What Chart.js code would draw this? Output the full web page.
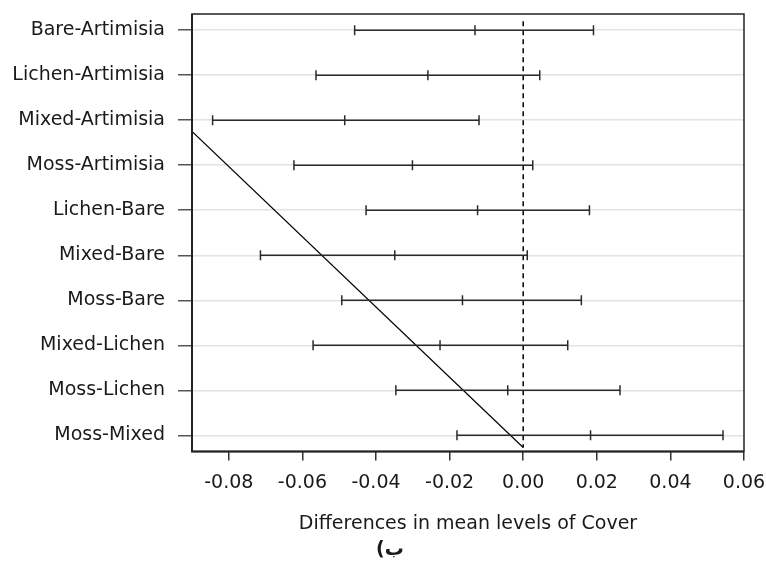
<!DOCTYPE html>
<html>
<head>
<meta charset="utf-8">
<script src="https://cdn.jsdelivr.net/npm/chart.js@4"></script>
<style>
  html, body { margin: 0; padding: 0; background: #ffffff; }
  #c { display: block; }
</style>
</head>
<body>
<canvas id="c" width="766" height="562"></canvas>
<script>
// ---- data ----
const categories = ["Bare-Artimisia","Lichen-Artimisia","Mixed-Artimisia","Moss-Artimisia","Lichen-Bare","Mixed-Bare","Moss-Bare","Mixed-Lichen","Moss-Lichen","Moss-Mixed"];
const diffs  = [-0.0131,-0.0259,-0.0485,-0.0301,-0.0124,-0.0349,-0.0165,-0.0226,-0.0042, 0.0183];
const lowers = [-0.0458,-0.0563,-0.0844,-0.0623,-0.0427,-0.0714,-0.0493,-0.0571,-0.0346,-0.0180];
const uppers = [ 0.0191, 0.0045,-0.0120, 0.0026, 0.0180, 0.0011, 0.0158, 0.0121, 0.0263, 0.0543];
const xTicks = [-0.08,-0.06,-0.04,-0.02,0,0.02,0.04,0.06];
const refLineX = [0, 0];
const refLineY = [0.8, 10.27];
const diagLineX = [-0.09, 0];
const diagLineY = [3.25, 10.27];
const xTitle = "Differences in mean levels of Cover";
const caption = "ب)";

const FONT = "'DejaVu Sans', 'Liberation Sans', Arial, sans-serif";
const TXT = "#1a1a1a";

const datasets = [];
categories.forEach((c, i) => {
  datasets.push({
    label: c,
    data: [
      {x: lowers[i], y: i + 1},
      {x: diffs[i],  y: i + 1},
      {x: uppers[i], y: i + 1}
    ],
    showLine: true,
    borderColor: "#2a2a2a",
    borderWidth: 1.5,
    pointStyle: "line",
    rotation: 90,
    pointRadius: 5,
    pointBorderWidth: 1.5,
    pointBorderColor: "#2a2a2a",
    pointBackgroundColor: "#2a2a2a"
  });
});
datasets.push({
  label: "zero",
  data: refLineX.map((x, k) => ({x: x, y: refLineY[k]})),
  showLine: true,
  borderColor: "#000000",
  borderWidth: 1.5,
  borderDash: [5, 4],
  pointRadius: 0
});
datasets.push({
  label: "diag",
  data: diagLineX.map((x, k) => ({x: x, y: diagLineY[k]})),
  showLine: true,
  borderColor: "#000000",
  borderWidth: 1.2,
  pointRadius: 0
});

function zeroPad(s) {
  s.paddingLeft = 0; s.paddingRight = 0; s.paddingTop = 0; s.paddingBottom = 0;
}

const framePlugin = {
  id: "frame",
  afterDraw(chart) {
    const {ctx, chartArea: a} = chart;
    ctx.save();
    ctx.strokeStyle = "#222222";
    ctx.lineWidth = 1.5;
    ctx.strokeRect(a.left, a.top, a.right - a.left, a.bottom - a.top);
    ctx.lineWidth = 2;
    ctx.beginPath();
    ctx.moveTo(a.left, a.top);
    ctx.lineTo(a.left, a.bottom);
    ctx.lineTo(a.right, a.bottom);
    ctx.stroke();
    // caption
    ctx.fillStyle = TXT;
    ctx.font = "bold 19px " + FONT;
    ctx.direction = "rtl";
    ctx.textAlign = "center";
    ctx.textBaseline = "middle";
    ctx.fillText(caption, 390, 550);
    ctx.restore();
  }
};

new Chart(document.getElementById("c"), {
  type: "scatter",
  data: { datasets: datasets },
  options: {
    responsive: false,
    animation: false,
    events: [],
    layout: { padding: { left: 0, top: 14, right: 22, bottom: 0 } },
    plugins: {
      legend: { display: false },
      tooltip: { enabled: false },
      title: { display: false }
    },
    scales: {
      x: {
        type: "linear",
        min: -0.09,
        max: 0.06,
        afterBuildTicks: (s) => { s.ticks = xTicks.map(v => ({value: v})); },
        afterFit: (s) => { s.height = 110.5; zeroPad(s); },
        ticks: {
          autoSkip: false,
          maxRotation: 0,
          padding: 11,
          color: TXT,
          font: { family: FONT, size: 19 },
          callback: (v) => Number(v).toFixed(2)
        },
        grid: {
          drawOnChartArea: false,
          drawTicks: true,
          tickLength: 9,
          tickColor: "#333333",
          lineWidth: 1.5
        },
        border: { display: false },
        title: {
          display: true,
          text: xTitle,
          color: TXT,
          font: { family: FONT, size: 19 },
          padding: { top: 0, bottom: 27 }
        }
      },
      y: {
        type: "linear",
        min: 0.64,
        max: 10.36,
        reverse: true,
        afterBuildTicks: (s) => { s.ticks = categories.map((c, i) => ({value: i + 1})); },
        afterFit: (s) => { s.width = 192; zeroPad(s); },
        ticks: {
          autoSkip: false,
          padding: 13,
          color: TXT,
          font: { family: FONT, size: 19 },
          callback: (v) => categories[Math.round(v) - 1]
        },
        grid: {
          color: "#e2e2e2",
          lineWidth: 1.5,
          drawTicks: true,
          tickLength: 14,
          tickColor: "#555555"
        },
        border: { display: false }
      }
    }
  },
  plugins: [framePlugin]
});
</script>
</body>
</html>
